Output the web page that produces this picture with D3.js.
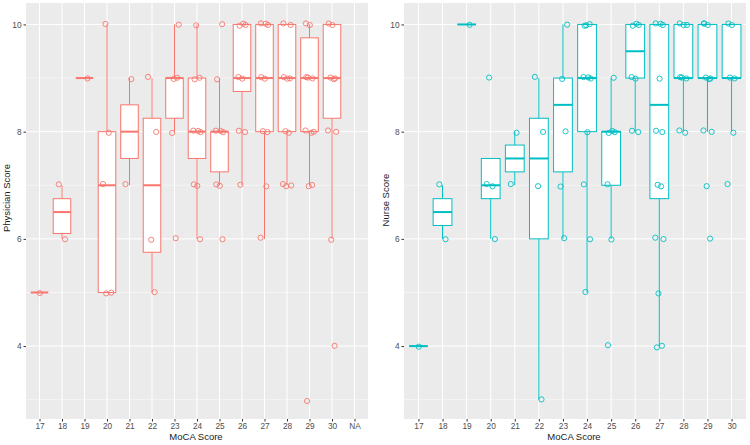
<!DOCTYPE html>
<html><head><meta charset="utf-8">
<script src="https://cdn.jsdelivr.net/npm/d3@7"></script>
<style>body{margin:0;background:#fff}text{font-family:"Liberation Sans",Arial,sans-serif}</style>
</head><body><svg id="c" width="750" height="445"></svg>
<script>
// ---------- data ----------
const categoriesLeft = ["17","18","19","20","21","22","23","24","25","26","27","28","29","30","NA"];
const categoriesRight = ["17","18","19","20","21","22","23","24","25","26","27","28","29","30"];
const yTicks = [4, 6, 8, 10];
const yMinor = [3, 5, 7, 9];

// Physician score box statistics per MoCA category (17..30)
const physLo  = [5, 6,    9, 5, 7,   5,    8,    6,   7,    7,    6,  7,  7,    6];
const physQ1  = [5, 6.1,  9, 5, 7.5, 5.75, 8.25, 7.5, 7.25, 8.75, 8,  8,  8,    8.25];
const physMed = [5, 6.5,  9, 7, 8,   7,    9,    8,   8,    9,    9,  9,  9,    9];
const physQ3  = [5, 6.75, 9, 8, 8.5, 8.25, 9,    9,   8,    10,   10, 10, 9.75, 10];
const physHi  = [5, 7,    9, 10, 9,  9,    10,   10,  9,    10,   10, 10, 10,   10];
const physPoints = [
  [5],
  [7, 6],
  [9],
  [10, 8, 7, 5, 5],
  [9, 7],
  [9, 8, 6, 5],
  [10, 9, 9, 8, 6],
  [10, 9, 9, 8, 8, 8, 7, 7, 6],
  [10, 9, 8, 8, 8, 7, 7, 6],
  [10, 10, 10, 9, 9, 8, 8, 7],
  [10, 10, 10, 9, 9, 8, 8, 7, 6],
  [10, 10, 9, 9, 9, 8, 8, 7, 7, 7],
  [10, 10, 9, 9, 9, 8, 8, 8, 7, 7, 3],
  [10, 10, 9, 9, 9, 8, 8, 6, 4]
];

// Nurse score box statistics per MoCA category (17..30)
const nurseLo  = [4, 6,    10, 6,    7,    3,    6,    5,  6, 8,   4,    8,  8,  8];
const nurseQ1  = [4, 6.25, 10, 6.75, 7.25, 6,    7.25, 8,  7, 9,   6.75, 9,  9,  9];
const nurseMed = [4, 6.5,  10, 7,    7.5,  7.5,  8.5,  9,  8, 9.5, 8.5,  9,  9,  9];
const nurseQ3  = [4, 6.75, 10, 7.5,  7.75, 8.25, 9,    10, 8, 10,  10,   10, 10, 10];
const nurseHi  = [4, 7,    10, 7.5,  8,    9,    10,   10, 9, 10,  10,   10, 10, 10];
const nursePoints = [
  [4],
  [7, 6],
  [10],
  [9, 7, 7, 6],
  [8, 7],
  [9, 8, 7, 3],
  [10, 9, 8, 7, 6],
  [10, 10, 10, 9, 9, 9, 8, 7, 6, 5],
  [9, 8, 8, 8, 7, 6, 4],
  [10, 10, 10, 9, 9, 8, 8],
  [10, 10, 10, 9, 8, 8, 7, 7, 6, 6, 5, 4, 4],
  [10, 10, 10, 9, 9, 9, 8, 8],
  [10, 10, 10, 9, 9, 9, 8, 8, 7, 6],
  [10, 10, 9, 9, 8, 7]
];

// ---------- drawing ----------
const svg = d3.select("#c");
const jx = [0.3, -3.2, 3.0, -1.6, 1.8, -4.0, 4.2, -0.8, 2.6, -2.4, 1.2, 3.6, -3.6];
const jy = [0.6, -0.9, 0.4, -0.5, 1.1, -1.2, 0.2, 0.9, -0.3, 1.3, -0.7, 0.5, -1.0];

function drawPanel(cfg) {
  const {x0, x1, y0, y1, cats, lo, q1, med, q3, hi, pts, color, yTitle, yTitleX, yTitleY, xTitle} = cfg;
  const g = svg.append("g");
  const x = d3.scalePoint().domain(cats).range([x0, x1]).padding(0.6);
  const y = d3.scaleLinear().domain([2.64, 10.4]).range([y1, y0]);
  const bw = x.step() * 0.78;

  g.append("rect").attr("x", x0).attr("y", y0).attr("width", x1 - x0).attr("height", y1 - y0).attr("fill", "#EBEBEB");
  // minor grid
  g.selectAll(".ymin").data(yMinor).join("line")
    .attr("x1", x0).attr("x2", x1).attr("y1", d => y(d)).attr("y2", d => y(d))
    .attr("stroke", "#fff").attr("stroke-width", 0.5);
  g.selectAll(".ymaj").data(yTicks).join("line")
    .attr("x1", x0).attr("x2", x1).attr("y1", d => y(d)).attr("y2", d => y(d))
    .attr("stroke", "#fff").attr("stroke-width", 1);
  g.selectAll(".xmaj").data(cats).join("line")
    .attr("x1", d => x(d)).attr("x2", d => x(d)).attr("y1", y0).attr("y2", y1)
    .attr("stroke", "#fff").attr("stroke-width", 1);

  // axes
  const ya = g.append("g").attr("transform", `translate(${x0},0)`)
    .call(d3.axisLeft(y).tickValues(yTicks).tickSize(2.5).tickPadding(2));
  ya.select(".domain").remove();
  ya.selectAll("line").attr("stroke", "#333");
  ya.selectAll("text").attr("fill", "#4D4D4D").style("font-size", "8.3px");
  const xa = g.append("g").attr("transform", `translate(0,${y1})`)
    .call(d3.axisBottom(x).tickSize(2.5).tickPadding(2));
  xa.select(".domain").remove();
  xa.selectAll("line").attr("stroke", "#333");
  xa.selectAll("text").attr("fill", "#4D4D4D").style("font-size", "8.3px");

  // boxes
  const idx = d3.range(lo.length);
  const bx = g.append("g");
  bx.selectAll(".wh").data(idx).join("line")
    .attr("x1", i => x(cats[i])).attr("x2", i => x(cats[i]))
    .attr("y1", i => y(hi[i])).attr("y2", i => y(q3[i]))
    .attr("stroke", color).attr("stroke-width", 1);
  bx.selectAll(".wl").data(idx).join("line")
    .attr("x1", i => x(cats[i])).attr("x2", i => x(cats[i]))
    .attr("y1", i => y(q1[i])).attr("y2", i => y(lo[i]))
    .attr("stroke", color).attr("stroke-width", 1);
  bx.selectAll(".bx").data(idx).join("rect")
    .attr("x", i => x(cats[i]) - bw / 2).attr("width", bw)
    .attr("y", i => y(q3[i])).attr("height", i => y(q1[i]) - y(q3[i]))
    .attr("fill", "#fff").attr("stroke", color).attr("stroke-width", 1);
  bx.selectAll(".md").data(idx).join("line")
    .attr("x1", i => x(cats[i]) - bw / 2).attr("x2", i => x(cats[i]) + bw / 2)
    .attr("y1", i => y(med[i])).attr("y2", i => y(med[i]))
    .attr("stroke", color).attr("stroke-width", 2);

  // jittered points
  const flat = [];
  pts.forEach((arr, i) => arr.forEach((v, k) => flat.push({c: cats[i], v, k: k + i})));
  g.append("g").selectAll("circle").data(flat).join("circle")
    .attr("cx", d => x(d.c) + jx[d.k % jx.length])
    .attr("cy", d => y(d.v) + jy[d.k % jy.length])
    .attr("r", 2.6).attr("fill", "none").attr("stroke", color).attr("stroke-width", 0.9);

  // titles
  g.append("text").attr("x", (x0 + x1) / 2 - 1).attr("y", 439.5).attr("text-anchor", "middle")
    .style("font-size", "9.5px").attr("fill", "#1a1a1a").text(xTitle);
  g.append("text").attr("transform", `translate(${yTitleX},${yTitleY}) rotate(-90)`)
    .attr("text-anchor", "middle").style("font-size", "9.5px").attr("fill", "#1a1a1a").text(yTitle);
}

drawPanel({x0: 26, x1: 368, y0: 3, y1: 419, cats: categoriesLeft,
  lo: physLo, q1: physQ1, med: physMed, q3: physQ3, hi: physHi, pts: physPoints,
  color: "#F8766D", yTitle: "Physician Score", yTitleX: 10, yTitleY: 198, xTitle: "MoCA Score"});
drawPanel({x0: 404, x1: 746, y0: 3, y1: 419, cats: categoriesRight,
  lo: nurseLo, q1: nurseQ1, med: nurseMed, q3: nurseQ3, hi: nurseHi, pts: nursePoints,
  color: "#00BFC4", yTitle: "Nurse Score", yTitleX: 389, yTitleY: 200, xTitle: "MoCA Score"});
</script></body></html>
